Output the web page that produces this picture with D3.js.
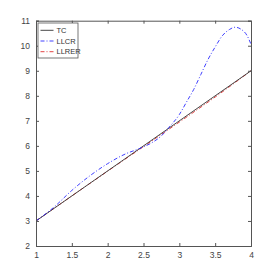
<!DOCTYPE html>
<html><head><meta charset="utf-8">
<script src="https://cdn.jsdelivr.net/npm/d3@7"></script>
<style>body{margin:0;background:#fff}svg{display:block}</style>
</head><body>
<script>
const xTicks = [1, 1.5, 2, 2.5, 3, 3.5, 4];
const yTicks = [2, 3, 4, 5, 6, 7, 8, 9, 10, 11];
const seriesNames = ["TC", "LLCR", "LLRER"];
const tcX = [1, 4];
const tcY = [3, 9];
const llcrX = [1.0, 1.25, 1.5, 1.75, 2.0, 2.25, 2.45, 2.6, 2.75, 2.85, 3.0, 3.1, 3.2, 3.3, 3.4, 3.5, 3.6, 3.7, 3.78, 3.86, 3.94, 4.0];
const llcrY = [3.0, 3.55, 4.22, 4.8, 5.29, 5.68, 5.9, 6.1, 6.4, 6.72, 7.25, 7.75, 8.25, 8.85, 9.45, 9.95, 10.4, 10.65, 10.74, 10.66, 10.43, 10.06];
const llrerX = [1.0, 1.5, 2.0, 2.5, 3.0, 3.5, 4.0];
const llrerY = [3.0, 4.0, 4.99, 5.97, 6.95, 7.95, 9.0];

const W = 277, H = 277;
const m = {l: 36, r: 26, t: 20.7, b: 31};
const svg = d3.select("body").append("svg").attr("width", W).attr("height", H);
const x = d3.scaleLinear().domain([1, 4]).range([m.l, W - m.r]);
const y = d3.scaleLinear().domain([2, 11]).range([H - m.b, m.t]);

const axisCol = "#555";
const font = "'Liberation Sans Narrow', 'Liberation Sans', Arial, sans-serif";

// lines
const line = d3.line().x(d => x(d[0])).y(d => y(d[1]));
const g = svg.append("g");
g.append("path").datum(llrerX.map((v, i) => [v, llrerY[i]]))
  .attr("d", line.curve(d3.curveMonotoneX)).attr("fill", "none")
  .attr("stroke", "#e03030").attr("stroke-width", 0.9).attr("stroke-dasharray", "4,2,1,2");
g.append("path").datum(tcX.map((v, i) => [v, tcY[i]]))
  .attr("d", line.curve(d3.curveLinear)).attr("fill", "none")
  .attr("stroke", "#333").attr("stroke-width", 0.9);
g.append("path").datum(llcrX.map((v, i) => [v, llcrY[i]]))
  .attr("d", line.curve(d3.curveMonotoneX)).attr("fill", "none")
  .attr("stroke", "#2a2aff").attr("stroke-width", 0.9).attr("stroke-dasharray", "4,2,1,2");

// axes
const xb = svg.append("g").attr("transform", `translate(0,${H - m.b})`)
  .call(d3.axisBottom(x).tickValues(xTicks).tickSize(-3).tickPadding(6).tickFormat(d3.format("")));
const xt = svg.append("g").attr("transform", `translate(0,${m.t})`)
  .call(d3.axisTop(x).tickValues(xTicks).tickSize(-3).tickFormat(""));
const yl = svg.append("g").attr("transform", `translate(${m.l},0)`)
  .call(d3.axisLeft(y).tickValues(yTicks).tickSize(-3).tickPadding(6).tickFormat(d3.format("")));
const yr = svg.append("g").attr("transform", `translate(${W - m.r},0)`)
  .call(d3.axisRight(y).tickValues(yTicks).tickSize(-3).tickFormat(""));
[xb, xt, yl, yr].forEach(a => {
  a.selectAll("path.domain").attr("stroke", axisCol).attr("stroke-width", 1);
  a.selectAll("line").attr("stroke", axisCol);
  a.selectAll("text").attr("fill", "#444").attr("font-family", font).attr("font-size", 8.5);
});

// legend
const lg = svg.append("g");
lg.append("rect").attr("x", 38).attr("y", 23).attr("width", 40).attr("height", 35)
  .attr("fill", "#fff").attr("stroke", axisCol).attr("stroke-width", 0.8);
const legStyles = [
  {c: "#333", d: null},
  {c: "#2a2aff", d: "4,2,1,2"},
  {c: "#e03030", d: "4,2,1,2"}
];
seriesNames.forEach((n, i) => {
  const yy = 30.3 + i * 10.7;
  lg.append("line").attr("x1", 40.5).attr("x2", 53.5).attr("y1", yy).attr("y2", yy)
    .attr("stroke", legStyles[i].c).attr("stroke-width", 0.9)
    .attr("stroke-dasharray", legStyles[i].d);
  lg.append("text").attr("x", 56.5).attr("y", yy).attr("dy", "0.35em")
    .attr("font-family", font).attr("font-size", 7.5).attr("fill", "#333").text(n);
});
</script>
</body></html>
